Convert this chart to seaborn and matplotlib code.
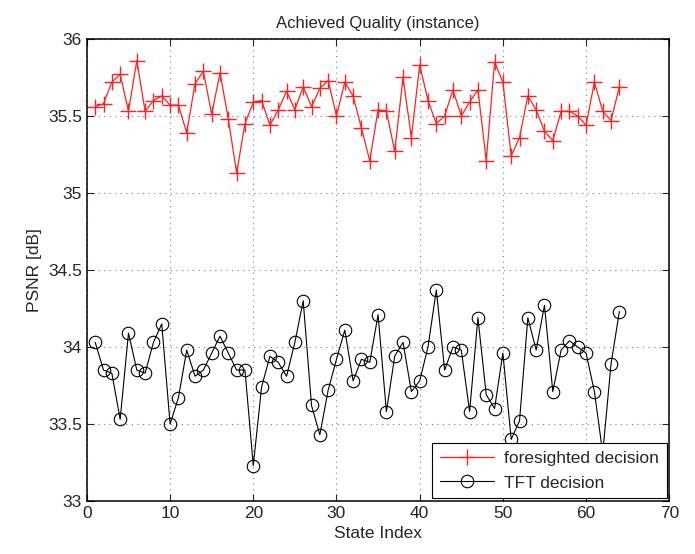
import numpy as np
import pandas as pd
import matplotlib
matplotlib.use("Agg")
import matplotlib.pyplot as plt
import seaborn as sns

# state index 1..64
state_index = list(range(1, 65))

foresighted = [35.56, 35.58, 35.72, 35.77, 35.53, 35.86, 35.53, 35.60, 35.63, 35.57,
               35.57, 35.39, 35.71, 35.79, 35.51, 35.78, 35.48, 35.13, 35.45, 35.59,
               35.60, 35.44, 35.54, 35.66, 35.54, 35.69, 35.56, 35.68, 35.73, 35.50,
               35.72, 35.63, 35.42, 35.21, 35.54, 35.53, 35.27, 35.75, 35.36, 35.83,
               35.60, 35.45, 35.50, 35.67, 35.50, 35.59, 35.67, 35.21, 35.85, 35.72,
               35.24, 35.36, 35.63, 35.54, 35.40, 35.34, 35.53, 35.53, 35.50, 35.44,
               35.72, 35.53, 35.47, 35.69]

tft = [34.03, 33.85, 33.83, 33.53, 34.09, 33.85, 33.83, 34.03, 34.15, 33.50,
       33.67, 33.98, 33.81, 33.85, 33.96, 34.07, 33.96, 33.85, 33.85, 33.23,
       33.74, 33.94, 33.90, 33.81, 34.03, 34.30, 33.62, 33.43, 33.72, 33.92,
       34.11, 33.78, 33.92, 33.90, 34.21, 33.58, 33.94, 34.03, 33.71, 33.78,
       34.00, 34.37, 33.85, 34.00, 33.98, 33.58, 34.19, 33.69, 33.60, 33.96,
       33.40, 33.52, 34.19, 33.98, 34.27, 33.71, 33.98, 34.04, 34.00, 33.96,
       33.71, 33.31, 33.89, 34.23]

df = pd.DataFrame({"State Index": state_index,
                   "foresighted decision": foresighted,
                   "TFT decision": tft})

sns.set_style("ticks")
plt.rcParams['font.family'] = ['Liberation Sans', 'DejaVu Sans']
plt.rcParams['xtick.direction'] = 'in'
plt.rcParams['ytick.direction'] = 'in'

fig = plt.figure(figsize=(6.95, 5.54), dpi=100)
ax = fig.add_axes([0.125, 0.0957, 0.838, 0.834])

sns.lineplot(data=df, x="State Index", y="foresighted decision", ax=ax,
             color="#ff2020", marker="+", markersize=11, markeredgewidth=1.0,
             markeredgecolor="#ff2020", linewidth=0.9,
             label="foresighted decision")
sns.lineplot(data=df, x="State Index", y="TFT decision", ax=ax,
             color="black", marker="o", markersize=9, markerfacecolor="none",
             markeredgecolor="black", markeredgewidth=0.8,
             linewidth=0.8, label="TFT decision")

ax.set_xlim(0, 70)
ax.set_ylim(33, 36)
ax.set_xticks(np.arange(0, 71, 10))
ax.set_yticks(np.arange(33, 36.01, 0.5))
ax.set_yticklabels(["33", "33.5", "34", "34.5", "35", "35.5", "36"])
ax.tick_params(labelsize=12.5, top=True, right=True, length=5, width=0.8)
ax.grid(True, linestyle=(0, (1, 4)), color="#808080", linewidth=0.8)
for s in ax.spines.values():
    s.set_linewidth(1.1)
    s.set_color("black")

ax.set_title("Achieved Quality (instance)", fontsize=12, pad=8)
ax.set_xlabel("State Index", fontsize=12.5)
ax.set_ylabel("PSNR [dB]", fontsize=12.5)

leg = ax.legend(loc="lower right", fontsize=12.5, frameon=True, fancybox=False,
                edgecolor="black", framealpha=1, borderaxespad=0.15,
                handlelength=3.1, borderpad=0.45, labelspacing=0.55,
                handletextpad=0.6)
leg.get_frame().set_linewidth(0.8)
leg.set_zorder(5)

fig.savefig("out.png", dpi=100)
